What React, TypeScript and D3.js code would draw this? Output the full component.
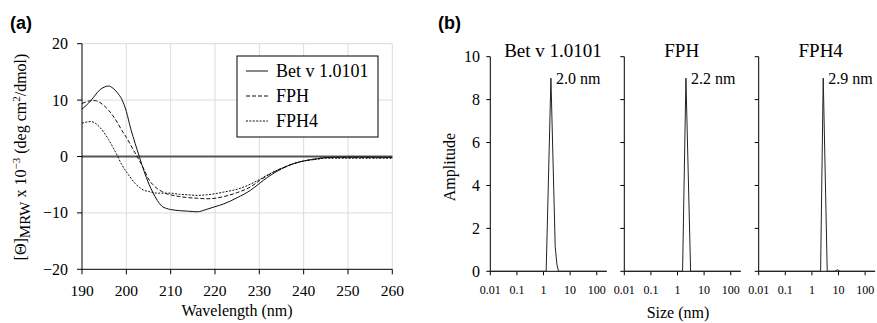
import React from "react";
import * as d3 from "d3";

// ---------- Panel (a) data: CD spectra ----------
const wavelength = [190,191,192,193,194,195,196,197,198,199,200,201,202,203,204,205,206,207,208,209,210,212,214,216,218,220,222,225,228,230,232,235,238,240,243,245,250,255,260];
const betV = [8.4,9.1,9.9,10.9,11.8,12.3,12.5,12.1,11.3,10.1,8.0,4.9,2.3,-0.2,-2.6,-4.7,-6.4,-7.8,-8.8,-9.2,-9.4,-9.6,-9.7,-9.8,-9.4,-8.9,-8.4,-7.3,-6.0,-4.8,-3.6,-2.2,-1.2,-0.8,-0.4,-0.2,-0.1,-0.1,-0.15];
const fph = [9.4,9.7,9.9,9.9,9.6,9.0,8.2,7.2,6.0,4.6,3.4,2.0,0.6,-0.8,-2.3,-4.0,-5.0,-5.7,-6.2,-6.6,-6.8,-7.1,-7.3,-7.4,-7.5,-7.4,-7.1,-6.4,-5.4,-4.3,-3.3,-2.1,-1.2,-0.8,-0.4,-0.2,-0.2,-0.2,-0.2];
const fph4 = [5.9,6.1,6.2,5.9,5.2,4.2,3.0,1.6,0.1,-1.5,-2.7,-3.8,-4.8,-5.5,-6.0,-6.2,-6.4,-6.5,-6.5,-6.5,-6.5,-6.7,-6.8,-6.9,-6.8,-6.6,-6.3,-5.8,-4.9,-4.1,-3.2,-2.1,-1.2,-0.8,-0.5,-0.3,-0.3,-0.3,-0.3];
const seriesNames = ["Bet v 1.0101", "FPH", "FPH4"];
const xTicksA = [190, 200, 210, 220, 230, 240, 250, 260];
const yTicksA = [-20, -10, 0, 10, 20];

// ---------- Panel (b) data: size distributions ----------
const sizeBet = [0.01, 1.26, 1.9, 2.75, 3.2, 3.66, 237];
const ampBet = [0, 0, 9, 1.15, 0.3, 0, 0];
const sizeFph = [0.01, 1.55, 2.07, 3.1, 237];
const ampFph = [0, 0, 9, 0, 0];
const sizeFph4 = [0.01, 2.12, 2.66, 3.76, 7.0, 9.2, 11.5, 237];
const ampFph4 = [0, 0, 9, 0, 0, 0.07, 0, 0];
const peakSizes = [1.9, 2.07, 2.66];
const peakLabels = ["2.0 nm", "2.2 nm", "2.9 nm"];
const xTicksB = [0.01, 0.1, 1, 10, 100];
const xTickLabelsB = ["0.01", "0.1", "1", "10", "100"];
const yTicksB = [0, 2, 4, 6, 8, 10];

const SERIF = "Liberation Serif, Times New Roman, serif";
const SANS = "Liberation Sans, Arial, sans-serif";

export default function App() {
  const xA = d3.scaleLinear().domain([190, 260]).range([82, 392.3]);
  const yA = d3.scaleLinear().domain([-20, 20]).range([269.3, 43.7]);
  const lineA = (vals: number[]) =>
    d3.line<number>().x((_, i) => xA(wavelength[i])).y((v) => yA(v)).curve(d3.curveMonotoneX)(vals) as string;
  const seriesA = [
    { vals: betV, dash: undefined },
    { vals: fph, dash: "4,2" },
    { vals: fph4, dash: "2,1.4" },
  ];

  const lefts = [490.3, 624.3, 758.7];
  const width = 116.4;
  const titleOffsets = [62.7, 57.4, 62];
  const yB = d3.scaleLinear().domain([0, 10]).range([271.3, 56.7]);
  const dataB = [
    { s: sizeBet, a: ampBet },
    { s: sizeFph, a: ampFph },
    { s: sizeFph4, a: ampFph4 },
  ];
  const serif = { fontFamily: SERIF };

  return (
    <svg width={877} height={323} style={{ position: "fixed", left: 0, top: 0, background: "#fff" }}>
      {/* ===== Panel (a) ===== */}
      <text x={10} y={29} style={{ fontFamily: SANS }} fontWeight="bold" fontSize={18}>(a)</text>
      {xTicksA.slice(1).map((t) => (
        <line key={"gx" + t} x1={xA(t)} x2={xA(t)} y1={yA(20)} y2={yA(-20)} stroke="#dcdcdc" strokeWidth={1} />
      ))}
      {yTicksA.filter((t) => t !== 0 && t !== -20).map((t) => (
        <line key={"gy" + t} x1={xA(190)} x2={xA(260)} y1={yA(t)} y2={yA(t)} stroke="#dcdcdc" strokeWidth={1} />
      ))}
      <line x1={xA(190)} x2={xA(260)} y1={yA(0)} y2={yA(0)} stroke="#555" strokeWidth={2} />
      {seriesA.map((s, i) => (
        <path key={"c" + i} d={lineA(s.vals)} fill="none" stroke="#111" strokeWidth={1} strokeDasharray={s.dash} />
      ))}
      <line x1={xA(190)} x2={xA(190)} y1={yA(20)} y2={yA(-20)} stroke="#000" strokeWidth={1} />
      <line x1={xA(190)} x2={xA(260)} y1={yA(-20)} y2={yA(-20)} stroke="#000" strokeWidth={1} />
      {yTicksA.map((t) => (
        <g key={"yt" + t}>
          <line x1={xA(190) - 5} x2={xA(190)} y1={yA(t)} y2={yA(t)} stroke="#000" />
          <text x={68} y={yA(t) + 5.5} textAnchor="end" style={serif} fontSize={16}>
            {t < 0 ? "\u2212" + Math.abs(t) : String(t)}
          </text>
        </g>
      ))}
      {xTicksA.map((t) => (
        <g key={"xt" + t}>
          <line x1={xA(t)} x2={xA(t)} y1={yA(-20)} y2={yA(-20) + 5} stroke="#000" />
          <text x={xA(t)} y={296} textAnchor="middle" style={serif} fontSize={15.5}>{t}</text>
        </g>
      ))}
      <text x={237} y={316} textAnchor="middle" style={serif} fontSize={16}>Wavelength (nm)</text>
      <text transform="translate(26,157) rotate(-90)" textAnchor="middle" style={serif} fontSize={16}>
        <tspan>[Θ]</tspan>
        <tspan dy={4} fontSize={15}>MRW</tspan>
        <tspan dy={-4}> x 10</tspan>
        <tspan dy={-6} fontSize={11}>−3</tspan>
        <tspan dy={6}> (deg cm</tspan>
        <tspan dy={-6} fontSize={11}>2</tspan>
        <tspan dy={6}>/dmol)</tspan>
      </text>
      <rect x={237} y={56} width={141} height={81} fill="#fff" stroke="#000" strokeWidth={1} />
      {seriesNames.map((n, i) => (
        <g key={"lg" + i}>
          <line x1={246} x2={268} y1={71 + i * 25} y2={71 + i * 25} stroke="#111" strokeWidth={1} strokeDasharray={seriesA[i].dash} />
          <text x={276} y={71 + i * 25 + 6} style={serif} fontSize={18}>{n}</text>
        </g>
      ))}

      {/* ===== Panel (b) ===== */}
      <text x={438} y={29} style={{ fontFamily: SANS }} fontWeight="bold" fontSize={18}>(b)</text>
      {dataB.map((d, p) => {
        const left = lefts[p];
        const xB = d3.scaleLog().domain([0.01, 237]).range([left, left + width]);
        const path = d3
          .line<number>()
          .x((_, i) => xB(d.s[i]))
          .y((v) => yB(v))(d.a) as string;
        return (
          <g key={"pb" + p}>
            <line x1={left} x2={left} y1={yB(10)} y2={yB(0)} stroke="#000" />
            <line x1={left} x2={left + width} y1={yB(0)} y2={yB(0)} stroke="#000" />
            {yTicksB.map((t) => (
              <line key={"byt" + t} x1={left - 4} x2={left} y1={yB(t)} y2={yB(t)} stroke="#000" />
            ))}
            {xTicksB.map((t, i) => (
              <g key={"bxt" + t}>
                <line x1={xB(t)} x2={xB(t)} y1={yB(0)} y2={yB(0) + 4} stroke="#000" />
                <text x={xB(t)} y={294} textAnchor="middle" style={serif} fontSize={12}>{xTickLabelsB[i]}</text>
              </g>
            ))}
            <path d={path} fill="none" stroke="#222" strokeWidth={1} />
            <text x={left + titleOffsets[p]} y={57} textAnchor="middle" style={serif} fontSize={19}>{seriesNames[p]}</text>
            <text x={xB(peakSizes[p]) + 5} y={84} style={serif} fontSize={16}>{peakLabels[p]}</text>
          </g>
        );
      })}
      {yTicksB.map((t) => (
        <text key={"byl" + t} x={480} y={yB(t) + 5.5} textAnchor="end" style={serif} fontSize={16}>{t}</text>
      ))}
      <text transform="translate(455,167) rotate(-90)" textAnchor="middle" style={serif} fontSize={16}>Amplitude</text>
      <text x={678} y={318} textAnchor="middle" style={serif} fontSize={16}>Size (nm)</text>
    </svg>
  );
}
